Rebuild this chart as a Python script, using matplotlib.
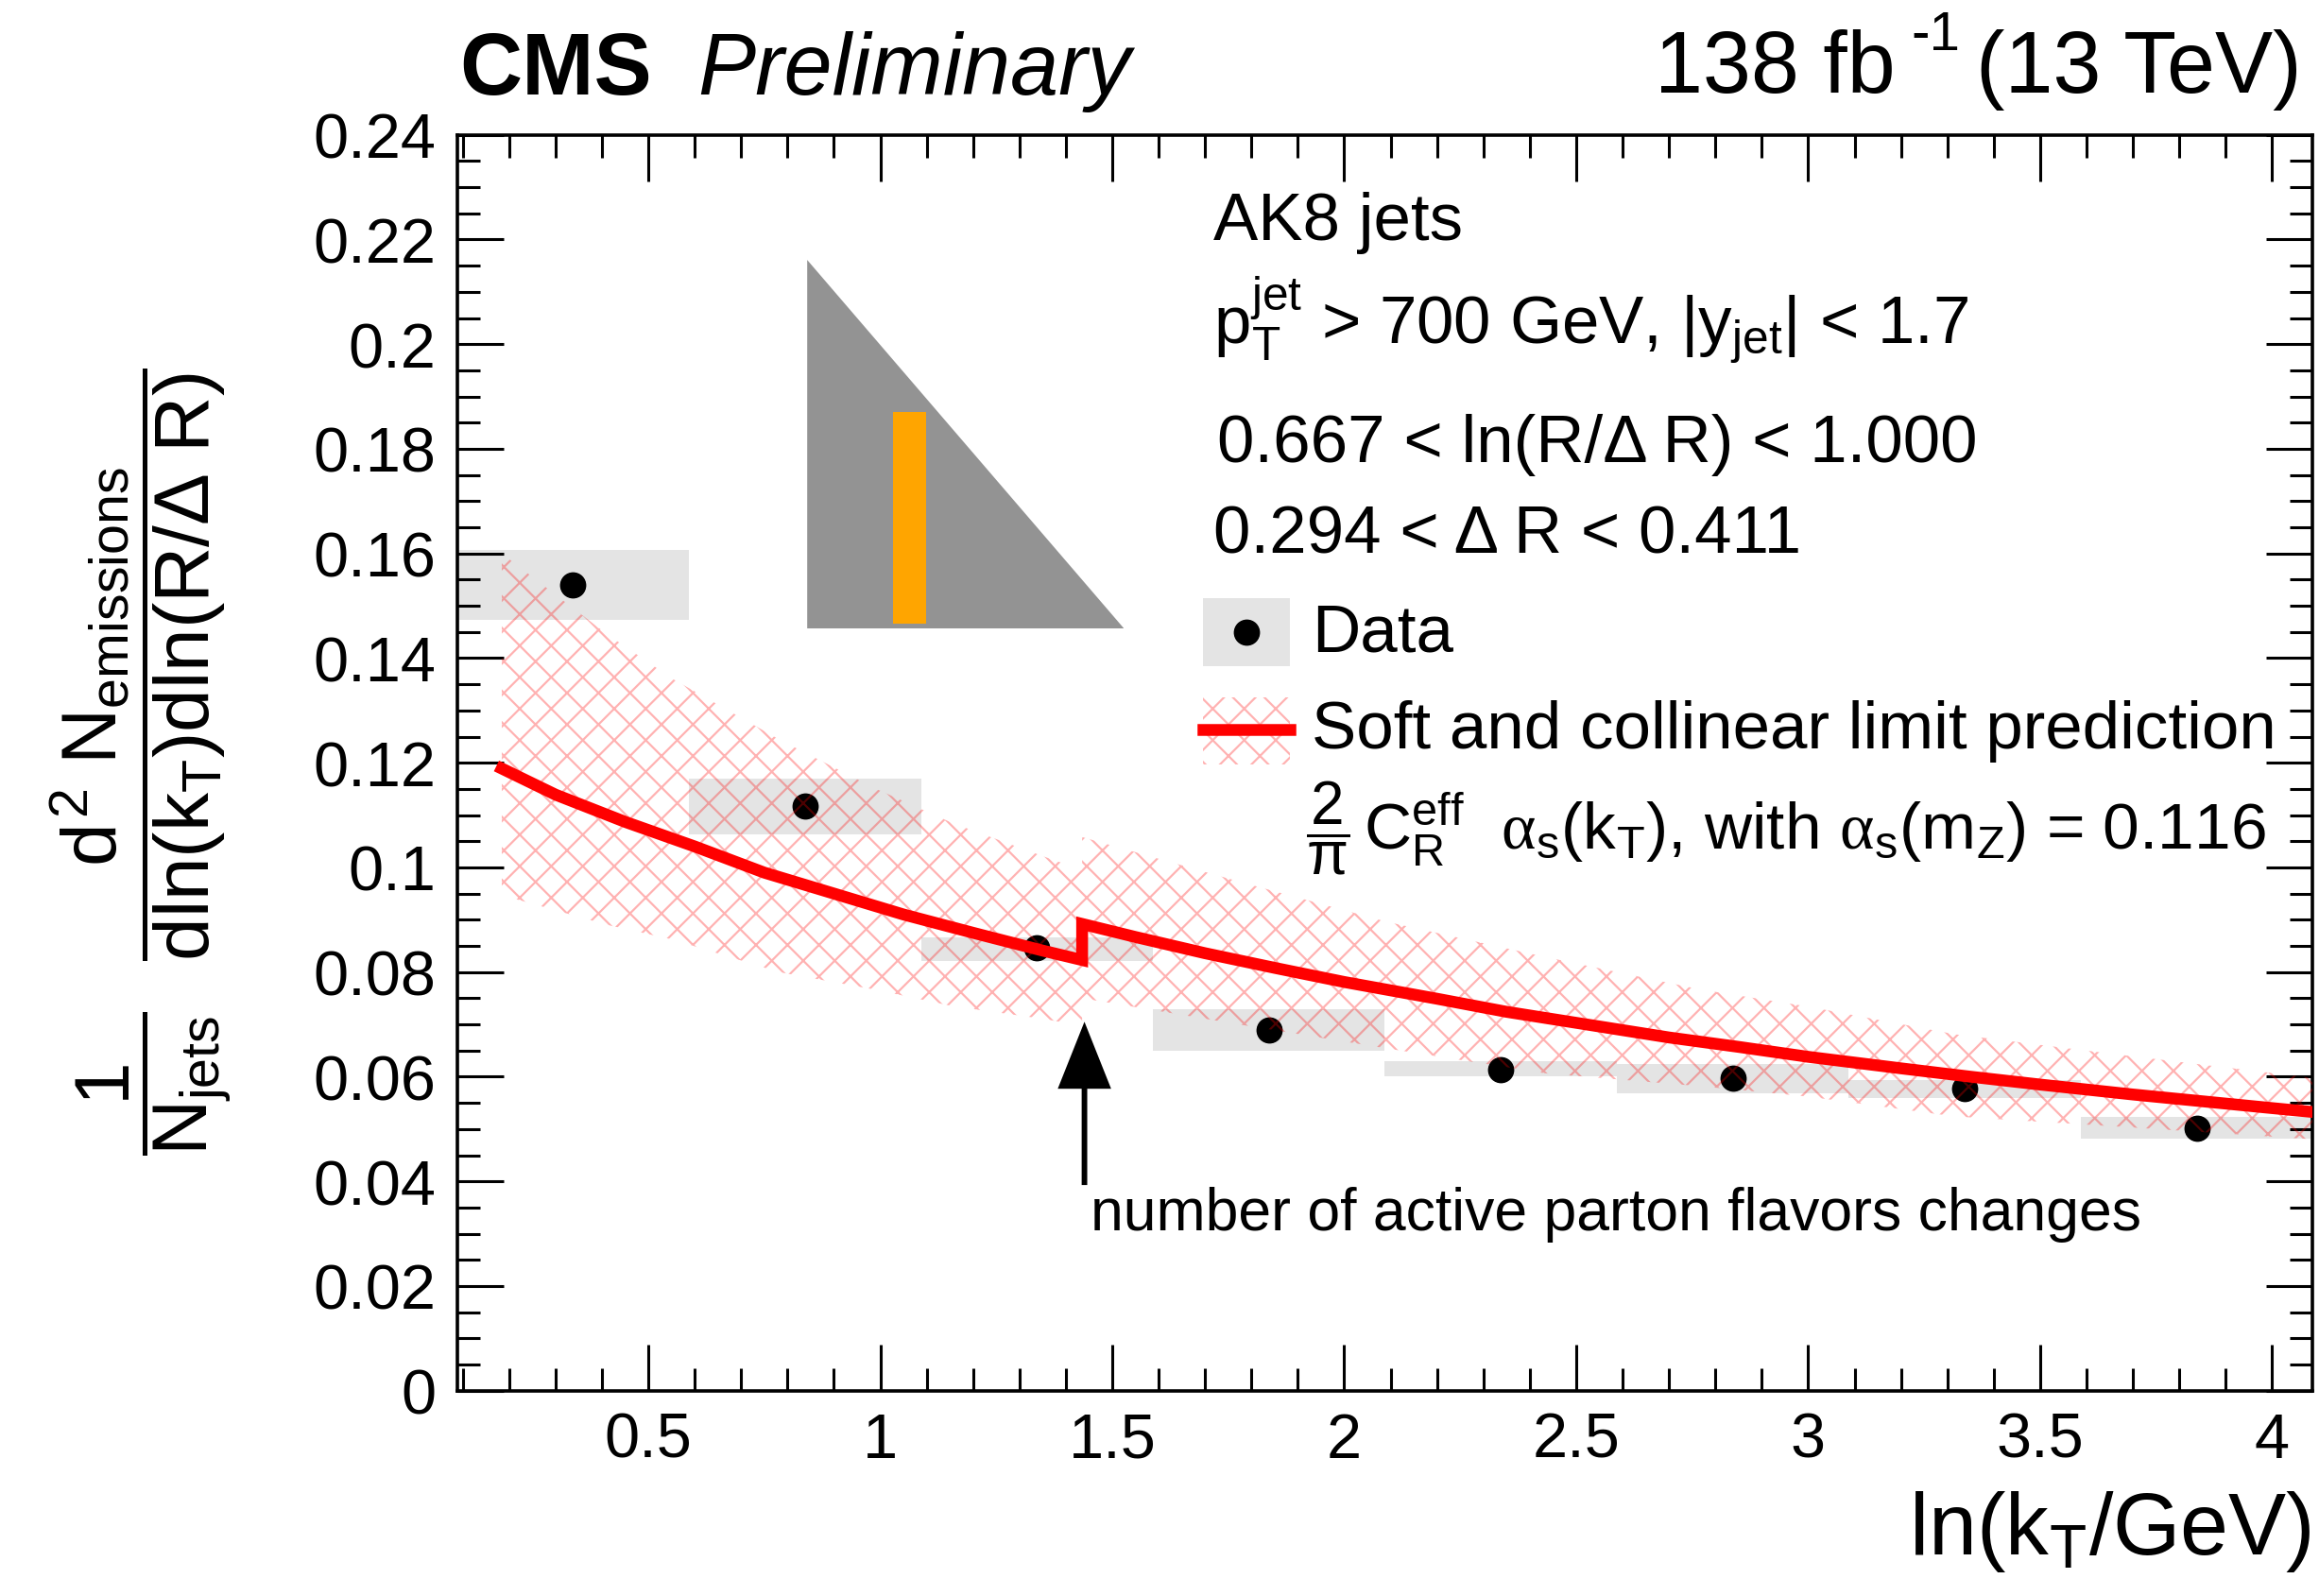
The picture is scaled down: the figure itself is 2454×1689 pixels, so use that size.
import numpy as np
import matplotlib
matplotlib.use("Agg")
import matplotlib.pyplot as plt
from matplotlib.ticker import MultipleLocator, FormatStrFormatter
from matplotlib.patches import Rectangle, Polygon

plt.rcParams['font.family'] = ['Liberation Sans', 'DejaVu Sans']
plt.rcParams['mathtext.fontset'] = 'custom'
plt.rcParams['mathtext.rm'] = 'Liberation Sans'
plt.rcParams['mathtext.it'] = 'Liberation Sans'
plt.rcParams['mathtext.sf'] = 'Liberation Serif'
plt.rcParams['mathtext.bf'] = 'Liberation Sans:bold'
plt.rcParams['hatch.linewidth'] = 1.6

# ---- data ----
bin_lo = [0.0875, 0.5875, 1.0875, 1.5875, 2.0875, 2.5875, 3.0875, 3.5875]
data_x = [0.3375, 0.8375, 1.3375, 1.8375, 2.3375, 2.8375, 3.3375, 3.8375]
data_y = [0.1540, 0.1118, 0.0846, 0.0689, 0.0614, 0.0597, 0.0577, 0.0502]
syst_lo = [0.1473, 0.1064, 0.0821, 0.0650, 0.0600, 0.0569, 0.0559, 0.0481]
syst_hi = [0.1606, 0.1170, 0.0866, 0.0729, 0.0630, 0.0625, 0.0594, 0.0523]

# prediction below the b threshold
pred1_x = [0.184, 0.30, 0.45, 0.60, 0.75, 0.90, 1.05, 1.20, 1.35, 1.435]
pred1_y = [0.1189, 0.1139, 0.1087, 0.1040, 0.0990, 0.0950, 0.0910, 0.0875, 0.0841, 0.0823]
# prediction above the b threshold
pred2_x = [1.435, 1.55, 1.70, 1.85, 2.00, 2.20, 2.35, 2.50, 2.70, 2.85, 3.00, 3.20, 3.35, 3.50,
           3.70, 3.85, 4.00, 4.094]
pred2_y = [0.0892, 0.0867, 0.0836, 0.0808, 0.0781, 0.0749, 0.0724, 0.0703, 0.0675, 0.0657,
           0.0638, 0.0616, 0.0600, 0.0585, 0.0566, 0.0553, 0.0540, 0.0532]

band1_x = [0.184, 0.412, 0.553, 0.781, 0.991, 1.155, 1.355, 1.435]
band1_hi = [0.1600, 0.1445, 0.1360, 0.1245, 0.1150, 0.1085, 0.1020, 0.0995]
band1_lo = [0.0947, 0.0890, 0.0862, 0.0800, 0.0766, 0.0735, 0.0710, 0.0697]
band2_x = [1.435, 1.773, 2.092, 2.438, 2.766, 3.000, 3.317, 3.681, 4.094]
band2_hi = [0.1058, 0.0973, 0.0896, 0.0828, 0.0767, 0.0734, 0.0681, 0.0641, 0.0597]
band2_lo = [0.0750, 0.0700, 0.0654, 0.0606, 0.0582, 0.0562, 0.0524, 0.0504, 0.0480]

W, H = 2454, 1690
fig = plt.figure(figsize=(W / 100, H / 100), dpi=100)
ax = fig.add_axes([483.6 / W, 1 - 1472.7 / H, (2447.3 - 483.6) / W, (1472.7 - 143.7) / H])

def fx(px):
    return px / W

def fy(py):
    return 1 - py / H

# systematic boxes
heights = [h - l for h, l in zip(syst_hi, syst_lo)]
ax.bar(bin_lo, heights, bottom=syst_lo, width=0.5, align='edge', color='#e4e4e4', lw=0, zorder=1)
ax.plot(data_x, data_y, 'o', color='black', ms=19, zorder=2)

# hatched prediction band
hatch_col = (1, 0, 0, 0.3)
ax.fill_between(band1_x, band1_lo, band1_hi, facecolor='none', edgecolor=hatch_col, hatch='x', lw=0, zorder=3)
ax.fill_between(band2_x, band2_lo, band2_hi, facecolor='none', edgecolor=hatch_col, hatch='x', lw=0, zorder=3)

ax.plot(pred1_x + pred2_x, pred1_y + pred2_y, color='red', lw=9, solid_joinstyle='miter', zorder=4)

# arrow at flavour threshold
ax.arrow(1.44, 0.0393, 0, 0.0312, width=0.012, head_width=0.115, head_length=0.0128,
         length_includes_head=True, color='black', lw=0, zorder=5)
ax.text(1.454, 0.0308, 'number of active parton flavors changes', fontsize=45, ha='left', va='baseline')

ax.set_xlim(0.0875, 4.0875)
ax.set_ylim(0, 0.24)
ax.xaxis.set_major_locator(MultipleLocator(0.5))
ax.xaxis.set_minor_locator(MultipleLocator(0.1))
ax.yaxis.set_major_locator(MultipleLocator(0.02))
ax.yaxis.set_minor_locator(MultipleLocator(0.005))
ax.xaxis.set_major_formatter(FormatStrFormatter('%g'))
ax.yaxis.set_major_formatter(FormatStrFormatter('%g'))
ax.tick_params(which='both', direction='in', top=True, right=True, width=2.2, labelsize=48)
ax.tick_params(which='major', length=35)
ax.tick_params(which='minor', length=17.5)
ax.tick_params(axis='y', pad=16)
ax.tick_params(axis='x', pad=16)
for s in ax.spines.values():
    s.set_linewidth(2.6)

# inset sketch of the Lund plane region
ins = fig.add_axes([fx(854.2), fy(666.1), (1189.4 - 854.2) / W, (666.1 - 276.1) / H])
ins.set_xlim(0, 1)
ins.set_ylim(0, 1)
ins.axis('off')
ins.add_patch(Polygon([[0, 0], [0, 1], [1, 0]], closed=True, color='#939393', lw=0))
ins.add_patch(Rectangle((0.271, 0.0136), 0.103, 0.574, color='#ffa500', lw=0))

# header
fig.text(fx(486), fy(100), 'CMS', fontsize=66, fontweight='bold', va='baseline')
fig.text(fx(738), fy(100), 'Preliminary', fontsize=66, style='italic', va='baseline')
fig.text(fx(2006), fy(98), '138 fb', fontsize=66, ha='right', va='baseline')
fig.text(fx(2022), fy(53), '-1', fontsize=42, ha='left', va='baseline')
fig.text(fx(2436), fy(98), '(13 TeV)', fontsize=66, ha='right', va='baseline')

# axis titles
fig.text(fx(2446), fy(1645), r'ln(k$_{T}$/GeV)', fontsize=66, ha='right', va='baseline')
fig.text(fx(150), fy(806),
         r'$\dfrac{1}{N_{jets}}\ \ \dfrac{d^{2}\ N_{emissions}}{dln(k_{T})dln(R/\Delta\ R)}$',
         fontsize=59, rotation=90, ha='center', va='center')

# legend / labels
fs = 51
fig.text(fx(1284), fy(254), 'AK8 jets', fontsize=fs, va='baseline')
fig.text(fx(1284), fy(364), r'p$_{T}^{jet}$ > 700 GeV, |y$_{jet}$| < 1.7', fontsize=fs, va='baseline')
fig.text(fx(1288), fy(489), '0.667 < ln(R/\u0394 R) < 1.000', fontsize=fs, va='baseline')
fig.text(fx(1284), fy(586), '0.294 < \u0394 R < 0.411', fontsize=fs, va='baseline')

fig.patches.append(Rectangle((fx(1273), fy(705.5)), (1365 - 1273) / W, (705.5 - 634) / H,
                             transform=fig.transFigure, color='#e4e4e4', lw=0))
fig.lines.append(plt.Line2D([fx(1319)], [fy(670)], marker='o', color='black', ms=19,
                            transform=fig.transFigure))
fig.text(fx(1388), fy(690), 'Data', fontsize=fs, va='baseline')

fig.patches.append(Rectangle((fx(1273), fy(810)), (1365 - 1273) / W, (810 - 738.7) / H,
                             transform=fig.transFigure, facecolor='none', edgecolor=hatch_col,
                             hatch='x', lw=0))
fig.lines.append(plt.Line2D([fx(1273), fx(1365)], [fy(773), fy(773)], color='red', lw=9,
                            transform=fig.transFigure))
fig.text(fx(1388), fy(792), 'Soft and collinear limit prediction', fontsize=fs, va='baseline')
fig.text(fx(1405), fy(876), r'$\dfrac{2}{\pi}$', fontsize=46, ha='center', va='center')
fig.text(fx(1443), fy(899),
         r'C$_{R}^{eff}$  $\mathsf{\alpha}_{s}$(k$_{T}$), with $\mathsf{\alpha}_{s}$(m$_{Z}$) = 0.116',
         fontsize=50, va='baseline')

fig.savefig('out.png', dpi=100)
